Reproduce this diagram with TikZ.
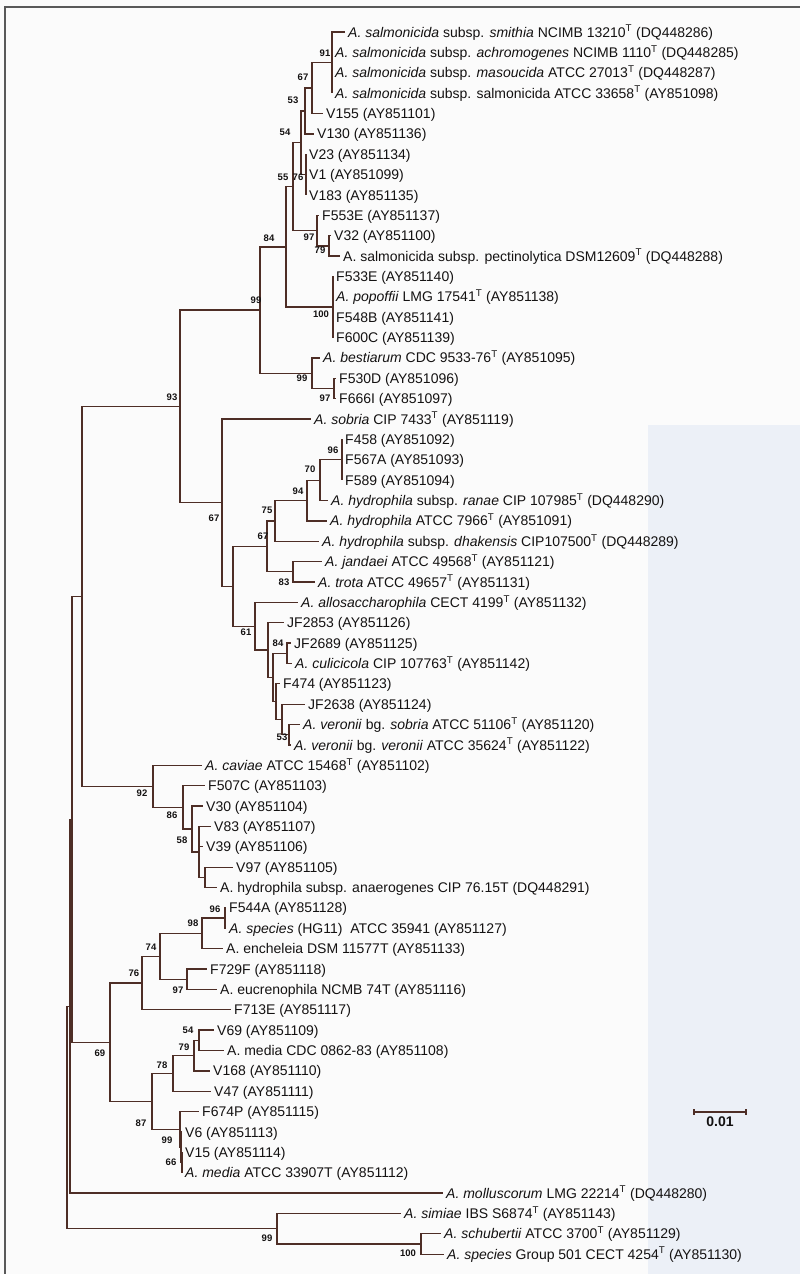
\documentclass[tikz,border=0pt]{standalone}
\usepackage{fontspec}
\setmainfont{Liberation Sans}
\usepackage{xcolor}
\usepackage{tikz}
\usetikzlibrary{positioning}
\definecolor{TreeLine}{RGB}{78,46,38}
\definecolor{TreeText}{RGB}{20,18,18}
\definecolor{PaperTint}{RGB}{236,240,247}
\newcommand{\supT}{\textsuperscript{T}}
\tikzset{
    branch/.style={draw=TreeLine, line width=1.3pt},
    leaf/.style={anchor=west, inner xsep=3pt, inner ysep=0pt, text height=10pt, text depth=0pt,
        text=TreeText, font=\fontsize{14}{16}\selectfont},
    boot/.style={inner sep=0pt, text=TreeText, font=\fontsize{9.5}{12}\selectfont\bfseries},
    framebar/.style={draw=gray!70!black, line width=1.2pt},
}

\begin{document}
\begin{tikzpicture}[x=1pt, y=-1pt]
    \useasboundingbox (0,0) rectangle (800,1274);
    \fill[white!97!gray] (0,0) rectangle (800,1274);
    \fill[PaperTint] (648,425) rectangle (800,1274);
    \draw[framebar] (5,1274) -- (5,7) -- (800,7);

    % leaves, top to bottom
    \node[leaf] (smithia) at (345,32.0) {\textit{A. salmonicida} subsp. \textit{smithia} NCIMB 13210\supT{} (DQ448286)};
    \node[leaf] (achrom) at (332,52.4) {\textit{A. salmonicida} subsp. \textit{achromogenes} NCIMB 1110\supT{} (DQ448285)};
    \node[leaf] (masou) at (332,72.7) {\textit{A. salmonicida} subsp. \textit{masoucida} ATCC 27013\supT{} (DQ448287)};
    \node[leaf] (salmo) at (332,93.1) {\textit{A. salmonicida} subsp. salmonicida ATCC 33658\supT{} (AY851098)};
    \node[leaf] (v155) at (323,113.5) {V155 (AY851101)};
    \node[leaf] (v130) at (314,133.9) {V130 (AY851136)};
    \node[leaf] (v23) at (306,154.2) {V23 (AY851134)};
    \node[leaf] (v1) at (306,174.6) {V1 (AY851099)};
    \node[leaf] (v183) at (306,195.0) {V183 (AY851135)};
    \node[leaf] (f553e) at (319,215.3) {F553E (AY851137)};
    \node[leaf] (v32) at (331,235.7) {V32 (AY851100)};
    \node[leaf] (pectino) at (340,256.1) {A. salmonicida subsp. pectinolytica DSM12609\supT{} (DQ448288)};
    \node[leaf] (f533e) at (333,276.4) {F533E (AY851140)};
    \node[leaf] (popoffii) at (333,296.8) {\textit{A. popoffii} LMG 17541\supT{} (AY851138)};
    \node[leaf] (f548b) at (333,317.2) {F548B (AY851141)};
    \node[leaf] (f600c) at (333,337.6) {F600C (AY851139)};
    \node[leaf] (bestiarum) at (320,357.9) {\textit{A. bestiarum} CDC 9533-76\supT{} (AY851095)};
    \node[leaf] (f530d) at (336,378.3) {F530D (AY851096)};
    \node[leaf] (f666i) at (336,398.7) {F666I (AY851097)};
    \node[leaf] (sobria) at (311,419.0) {\textit{A. sobria} CIP 7433\supT{} (AY851119)};
    \node[leaf] (f458) at (342,439.4) {F458 (AY851092)};
    \node[leaf] (f567a) at (342,459.8) {F567A (AY851093)};
    \node[leaf] (f589) at (342,480.1) {F589 (AY851094)};
    \node[leaf] (ranae) at (328,500.5) {\textit{A. hydrophila} subsp. \textit{ranae} CIP 107985\supT{} (DQ448290)};
    \node[leaf] (hydro) at (327,520.9) {\textit{A. hydrophila} ATCC 7966\supT{} (AY851091)};
    \node[leaf] (dhaka) at (319,541.3) {\textit{A. hydrophila} subsp. \textit{dhakensis} CIP107500\supT{} (DQ448289)};
    \node[leaf] (jandaei) at (322,561.6) {\textit{A. jandaei} ATCC 49568\supT{} (AY851121)};
    \node[leaf] (trota) at (315,582.0) {\textit{A. trota} ATCC 49657\supT{} (AY851131)};
    \node[leaf] (allosac) at (298,602.4) {\textit{A. allosaccharophila} CECT 4199\supT{} (AY851132)};
    \node[leaf] (jf2853) at (284,622.7) {JF2853 (AY851126)};
    \node[leaf] (jf2689) at (291,643.1) {JF2689 (AY851125)};
    \node[leaf] (culici) at (292,663.5) {\textit{A. culicicola} CIP 107763\supT{} (AY851142)};
    \node[leaf] (f474) at (280,683.8) {F474 (AY851123)};
    \node[leaf] (jf2638) at (305,704.2) {JF2638 (AY851124)};
    \node[leaf] (vsobria) at (300,724.6) {\textit{A. veronii} bg. \textit{sobria} ATCC 51106\supT{} (AY851120)};
    \node[leaf] (vveronii) at (291,745.0) {\textit{A. veronii} bg. \textit{veronii} ATCC 35624\supT{} (AY851122)};
    \node[leaf] (caviae) at (202,765.3) {\textit{A. caviae} ATCC 15468\supT{} (AY851102)};
    \node[leaf] (f507c) at (205,785.7) {F507C (AY851103)};
    \node[leaf] (v30) at (203,806.1) {V30 (AY851104)};
    \node[leaf] (v83) at (211,826.4) {V83 (AY851107)};
    \node[leaf] (v39) at (203,846.8) {V39 (AY851106)};
    \node[leaf] (v97) at (233,867.2) {V97 (AY851105)};
    \node[leaf] (anaero) at (217,887.5) {A. hydrophila subsp. anaerogenes CIP 76.15T (DQ448291)};
    \node[leaf] (f544a) at (226,907.9) {F544A (AY851128)};
    \node[leaf] (hg11) at (226,928.3) {\textit{A. species} (HG11)\ \ ATCC 35941 (AY851127)};
    \node[leaf] (enchel) at (223,948.7) {A. encheleia DSM 11577T (AY851133)};
    \node[leaf] (f729f) at (207,969.0) {F729F (AY851118)};
    \node[leaf] (eucren) at (217,989.4) {A. eucrenophila NCMB 74T (AY851116)};
    \node[leaf] (f713e) at (231,1009.8) {F713E (AY851117)};
    \node[leaf] (v69) at (214,1030.1) {V69 (AY851109)};
    \node[leaf] (mediacdc) at (224,1050.5) {A. media CDC 0862-83 (AY851108)};
    \node[leaf] (v168) at (210,1070.9) {V168 (AY851110)};
    \node[leaf] (v47) at (211,1091.2) {V47 (AY851111)};
    \node[leaf] (f674p) at (199,1111.6) {F674P (AY851115)};
    \node[leaf] (v6) at (182,1132.0) {V6 (AY851113)};
    \node[leaf] (v15) at (182,1152.4) {V15 (AY851114)};
    \node[leaf] (mediaatcc) at (182,1172.7) {\textit{A. media} ATCC 33907T (AY851112)};
    \node[leaf] (mollusc) at (443,1193.1) {\textit{A. molluscorum} LMG 22214\supT{} (DQ448280)};
    \node[leaf] (simiae) at (401,1213.5) {\textit{A. simiae} IBS S6874\supT{} (AY851143)};
    \node[leaf] (schub) at (441,1233.8) {\textit{A. schubertii} ATCC 3700\supT{} (AY851129)};
    \node[leaf] (grp501) at (444,1254.2) {\textit{A. species} Group 501 CECT 4254\supT{} (AY851130)};

    % inner nodes
    \coordinate (n91) at (332,62.6);
    \coordinate (n67a) at (312,88.0);
    \coordinate (n53a) at (305,111.0);
    \coordinate (n76a) at (306,174.6);
    \coordinate (n54a) at (301,142.8);
    \coordinate (n79a) at (329,245.9);
    \coordinate (n97a) at (317,230.6);
    \coordinate (n55) at (293,186.7);
    \coordinate (n100a) at (333,307.0);
    \coordinate (n84a) at (286,246.9);
    \coordinate (n97b) at (334,388.5);
    \coordinate (n99b) at (312,373.2);
    \coordinate (n99a) at (260,310.0);
    \coordinate (n96a) at (342,459.8);
    \coordinate (n70) at (320,480.2);
    \coordinate (n94) at (307,500.5);
    \coordinate (n75) at (275,520.9);
    \coordinate (n83) at (293,571.8);
    \coordinate (n67c) at (267,546.3);
    \coordinate (n84b) at (287,653.3);
    \coordinate (n53b) at (289,734.8);
    \coordinate (nM) at (282,719.5);
    \coordinate (nL) at (276,701.6);
    \coordinate (nK) at (273,677.5);
    \coordinate (nJ) at (268,650.1);
    \coordinate (n61) at (255,626.2);
    \coordinate (nH) at (233,586.3);
    \coordinate (n67b) at (222,502.6);
    \coordinate (n93) at (180,406.3);
    \coordinate (nZ) at (205,877.4);
    \coordinate (nY) at (199,851.9);
    \coordinate (n58) at (192,829.0);
    \coordinate (n86) at (183,807.4);
    \coordinate (n92) at (153,786.4);
    \coordinate (nR) at (82,596.3);
    \coordinate (n96b) at (225,918.1);
    \coordinate (n98) at (202,933.4);
    \coordinate (n97c) at (187,979.2);
    \coordinate (n74) at (160,956.3);
    \coordinate (n76b) at (142,983.1);
    \coordinate (n54b) at (199,1040.3);
    \coordinate (n79b) at (194,1055.6);
    \coordinate (n78) at (173,1073.4);
    \coordinate (n66) at (182,1162.6);
    \coordinate (nV) at (181,1147.3);
    \coordinate (n99c) at (180,1129.5);
    \coordinate (n87) at (152,1101.5);
    \coordinate (n69) at (110,1042.3);
    \coordinate (nQ) at (72,819.3);
    \coordinate (nP) at (70,1006.2);
    \coordinate (n100b) at (421,1244.0);
    \coordinate (n99d) at (277,1228.8);
    \coordinate (root) at (67,1117.5);

    % branches
    \draw[branch] (n91) |- (smithia) (n91) |- (achrom) (n91) |- (masou) (n91) |- (salmo);
    \draw[branch] (n67a) |- (n91) (n67a) |- (v155);
    \draw[branch] (n53a) |- (n67a) (n53a) |- (v130);
    \draw[branch] (n76a) |- (v23) (n76a) |- (v1) (n76a) |- (v183);
    \draw[branch] (n54a) |- (n53a) (n54a) |- (n76a);
    \draw[branch] (n79a) |- (v32) (n79a) |- (pectino);
    \draw[branch] (n97a) |- (f553e) (n97a) |- (n79a);
    \draw[branch] (n55) |- (n54a) (n55) |- (n97a);
    \draw[branch] (n100a) |- (f533e) (n100a) |- (popoffii) (n100a) |- (f548b) (n100a) |- (f600c);
    \draw[branch] (n84a) |- (n55) (n84a) |- (n100a);
    \draw[branch] (n97b) |- (f530d) (n97b) |- (f666i);
    \draw[branch] (n99b) |- (bestiarum) (n99b) |- (n97b);
    \draw[branch] (n99a) |- (n84a) (n99a) |- (n99b);
    \draw[branch] (n96a) |- (f458) (n96a) |- (f567a) (n96a) |- (f589);
    \draw[branch] (n70) |- (n96a) (n70) |- (ranae);
    \draw[branch] (n94) |- (n70) (n94) |- (hydro);
    \draw[branch] (n75) |- (n94) (n75) |- (dhaka);
    \draw[branch] (n83) |- (jandaei) (n83) |- (trota);
    \draw[branch] (n67c) |- (n75) (n67c) |- (n83);
    \draw[branch] (n84b) |- (jf2689) (n84b) |- (culici);
    \draw[branch] (n53b) |- (vsobria) (n53b) |- (vveronii);
    \draw[branch] (nM) |- (jf2638) (nM) |- (n53b);
    \draw[branch] (nL) |- (f474) (nL) |- (nM);
    \draw[branch] (nK) |- (n84b) (nK) |- (nL);
    \draw[branch] (nJ) |- (jf2853) (nJ) |- (nK);
    \draw[branch] (n61) |- (allosac) (n61) |- (nJ);
    \draw[branch] (nH) |- (n67c) (nH) |- (n61);
    \draw[branch] (n67b) |- (sobria) (n67b) |- (nH);
    \draw[branch] (n93) |- (n99a) (n93) |- (n67b);
    \draw[branch] (nZ) |- (v97) (nZ) |- (anaero);
    \draw[branch] (nY) |- (v83) (nY) |- (v39) (nY) |- (nZ);
    \draw[branch] (n58) |- (v30) (n58) |- (nY);
    \draw[branch] (n86) |- (f507c) (n86) |- (n58);
    \draw[branch] (n92) |- (caviae) (n92) |- (n86);
    \draw[branch] (nR) |- (n93) (nR) |- (n92);
    \draw[branch] (n96b) |- (f544a) (n96b) |- (hg11);
    \draw[branch] (n98) |- (n96b) (n98) |- (enchel);
    \draw[branch] (n97c) |- (f729f) (n97c) |- (eucren);
    \draw[branch] (n74) |- (n98) (n74) |- (n97c);
    \draw[branch] (n76b) |- (n74) (n76b) |- (f713e);
    \draw[branch] (n54b) |- (v69) (n54b) |- (mediacdc);
    \draw[branch] (n79b) |- (n54b) (n79b) |- (v168);
    \draw[branch] (n78) |- (n79b) (n78) |- (v47);
    \draw[branch] (n66) |- (v15) (n66) |- (mediaatcc);
    \draw[branch] (nV) |- (v6) (nV) |- (n66);
    \draw[branch] (n99c) |- (f674p) (n99c) |- (nV);
    \draw[branch] (n87) |- (n78) (n87) |- (n99c);
    \draw[branch] (n69) |- (n76b) (n69) |- (n87);
    \draw[branch] (nQ) |- (nR) (nQ) |- (n69);
    \draw[branch] (nP) |- (nQ) (nP) |- (mollusc);
    \draw[branch] (n100b) |- (schub) (n100b) |- (grp501);
    \draw[branch] (n99d) |- (simiae) (n99d) |- (n100b);
    \draw[branch] (root) |- (nP) (root) |- (n99d);

    % bootstrap values
    \node[boot] (b91) at (325,53) {91};
    \node[boot] (b67a) at (303,77) {67};
    \node[boot] (b53a) at (293,100) {53};
    \node[boot] (b54a) at (285,132) {54};
    \node[boot] (b55) at (283,177) {55};
    \node[boot] (b76a) at (298,177) {76};
    \node[boot] (b84a) at (269,238) {84};
    \node[boot] (b97a) at (309,237) {97};
    \node[boot] (b79a) at (320,250) {79};
    \node[boot] (b99a) at (256,300) {99};
    \node[boot] (b100a) at (321,314) {100};
    \node[boot] (b99b) at (302,378) {99};
    \node[boot] (b97b) at (325,398) {97};
    \node[boot] (b93) at (172,397) {93};
    \node[boot] (b96a) at (333,450) {96};
    \node[boot] (b70) at (310,469) {70};
    \node[boot] (b94) at (298,491) {94};
    \node[boot] (b75) at (267,510) {75};
    \node[boot] (b67c) at (263,536) {67};
    \node[boot] (b83) at (284,582) {83};
    \node[boot] (b67b) at (214,518) {67};
    \node[boot] (b61) at (246,632) {61};
    \node[boot] (b84b) at (278,643) {84};
    \node[boot] (b53b) at (282,737) {53};
    \node[boot] (b92) at (142,793) {92};
    \node[boot] (b86) at (172,815) {86};
    \node[boot] (b58) at (182,840) {58};
    \node[boot] (b96b) at (215,909) {96};
    \node[boot] (b98) at (193,923) {98};
    \node[boot] (b74) at (151,947) {74};
    \node[boot] (b76b) at (134,973) {76};
    \node[boot] (b97c) at (178,990) {97};
    \node[boot] (b54b) at (188,1030) {54};
    \node[boot] (b79b) at (184,1047) {79};
    \node[boot] (b78) at (162,1065) {78};
    \node[boot] (b69) at (100,1053) {69};
    \node[boot] (b87) at (141,1123) {87};
    \node[boot] (b99c) at (167,1140) {99};
    \node[boot] (b66) at (171,1162) {66};
    \node[boot] (b99d) at (267,1238) {99};
    \node[boot] (b100b) at (408,1253) {100};

    % scale bar
    \coordinate (sbl) at (694,1112);
    \coordinate (sbr) at (746,1112);
    \coordinate (sbm) at (720,1112);
    \draw[branch] (sbl) -- (sbr);
    \draw[branch] ([yshift=3pt]sbl) -- ([yshift=-3pt]sbl);
    \draw[branch] ([yshift=3pt]sbr) -- ([yshift=-3pt]sbr);
    \node[boot, font=\fontsize{14}{16}\selectfont\bfseries, below=5pt of sbm] (sblab) {0.01};
\end{tikzpicture}
\end{document}
